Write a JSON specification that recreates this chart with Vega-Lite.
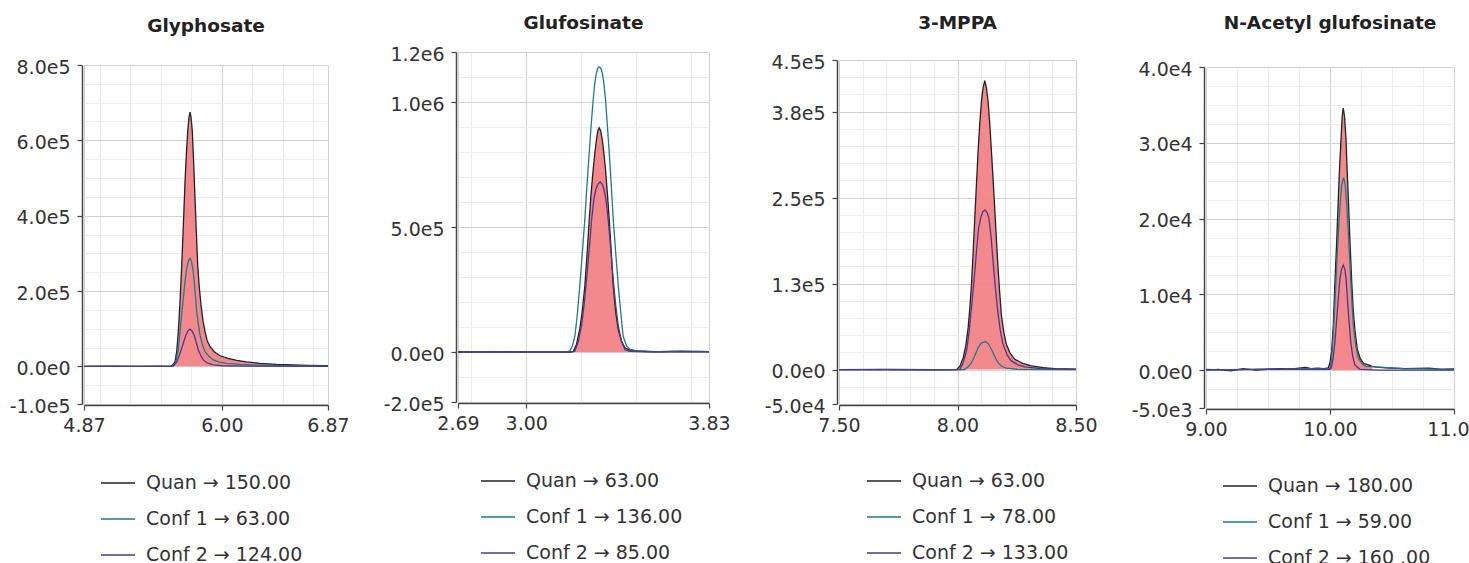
{
"$schema": "https://vega.github.io/schema/vega-lite/v6.json",
"padding": {"left": 9, "top": 12, "right": 0, "bottom": 0},
"background": "white",
"spacing": 33,
"config": {
  "view": {"stroke": null},
  "font": "DejaVu Sans",
  "axis": {"labelFont": "DejaVu Sans", "labelFontSize": 19, "labelColor": "#333", "domainColor": "#444", "domainWidth": 1.5, "tickColor": "#444", "tickSize": 5, "tickWidth": 1.2, "gridWidth": 1, "labelFlush": false, "labelOverlap": false, "title": null},
  "axisX": {"labelPadding": 6},
  "axisY": {"labelOffset": 2},
  "title": {"font": "DejaVu Sans", "fontSize": 18.5, "fontWeight": "bold", "color": "#222", "anchor": "middle"},
  "legend": {"labelFont": "DejaVu Sans", "labelFontSize": 19, "labelColor": "#333", "labelLimit": 400, "symbolType": "stroke", "symbolSize": 1156, "symbolStrokeWidth": 1.5, "labelOffset": 10, "rowPadding": 8, "title": null, "orient": "none", "direction": "vertical"}
},
"resolve": {"scale": {"x": "independent", "y": "independent", "color": "independent"}, "legend": {"color": "independent"}, "axis": {"x": "independent", "y": "independent"}},
"datasets": {
"gly": [
{"s":"Quan → 150.00","x":4.87,"v":0},{"s":"Quan → 150.00","x":5.1,"v":500},{"s":"Quan → 150.00","x":5.3,"v":-300},{"s":"Quan → 150.00","x":5.5,"v":200},{"s":"Quan → 150.00","x":5.58,"v":0},{"s":"Quan → 150.00","x":5.6,"v":5000},{"s":"Quan → 150.00","x":5.616,"v":12000},{"s":"Quan → 150.00","x":5.63,"v":40000},{"s":"Quan → 150.00","x":5.643,"v":92000},{"s":"Quan → 150.00","x":5.657,"v":170000},{"s":"Quan → 150.00","x":5.671,"v":269000},{"s":"Quan → 150.00","x":5.685,"v":380000},{"s":"Quan → 150.00","x":5.698,"v":490000},{"s":"Quan → 150.00","x":5.71,"v":570000},{"s":"Quan → 150.00","x":5.72,"v":623000},{"s":"Quan → 150.00","x":5.73,"v":660000},{"s":"Quan → 150.00","x":5.739,"v":675000},{"s":"Quan → 150.00","x":5.748,"v":660000},{"s":"Quan → 150.00","x":5.758,"v":623000},{"s":"Quan → 150.00","x":5.769,"v":540000},{"s":"Quan → 150.00","x":5.78,"v":446000},{"s":"Quan → 150.00","x":5.791,"v":355000},{"s":"Quan → 150.00","x":5.802,"v":269000},{"s":"Quan → 150.00","x":5.815,"v":210000},{"s":"Quan → 150.00","x":5.829,"v":163000},{"s":"Quan → 150.00","x":5.845,"v":122000},{"s":"Quan → 150.00","x":5.862,"v":92000},{"s":"Quan → 150.00","x":5.88,"v":68000},{"s":"Quan → 150.00","x":5.903,"v":52000},{"s":"Quan → 150.00","x":5.94,"v":38000},{"s":"Quan → 150.00","x":5.985,"v":28000},{"s":"Quan → 150.00","x":6.05,"v":21000},{"s":"Quan → 150.00","x":6.122,"v":16000},{"s":"Quan → 150.00","x":6.2,"v":12000},{"s":"Quan → 150.00","x":6.313,"v":8000},{"s":"Quan → 150.00","x":6.45,"v":5000},{"s":"Quan → 150.00","x":6.586,"v":3500},{"s":"Quan → 150.00","x":6.7,"v":2500},{"s":"Quan → 150.00","x":6.87,"v":2000},
{"s":"Conf 1 → 63.00","x":4.87,"v":0},{"s":"Conf 1 → 63.00","x":5.3,"v":-200},{"s":"Conf 1 → 63.00","x":5.59,"v":0},{"s":"Conf 1 → 63.00","x":5.62,"v":8000},{"s":"Conf 1 → 63.00","x":5.643,"v":45000},{"s":"Conf 1 → 63.00","x":5.657,"v":92000},{"s":"Conf 1 → 63.00","x":5.671,"v":140000},{"s":"Conf 1 → 63.00","x":5.684,"v":180000},{"s":"Conf 1 → 63.00","x":5.698,"v":225000},{"s":"Conf 1 → 63.00","x":5.712,"v":260000},{"s":"Conf 1 → 63.00","x":5.726,"v":280000},{"s":"Conf 1 → 63.00","x":5.739,"v":287000},{"s":"Conf 1 → 63.00","x":5.752,"v":278000},{"s":"Conf 1 → 63.00","x":5.766,"v":250000},{"s":"Conf 1 → 63.00","x":5.78,"v":200000},{"s":"Conf 1 → 63.00","x":5.794,"v":145000},{"s":"Conf 1 → 63.00","x":5.808,"v":110000},{"s":"Conf 1 → 63.00","x":5.821,"v":83000},{"s":"Conf 1 → 63.00","x":5.84,"v":58000},{"s":"Conf 1 → 63.00","x":5.862,"v":39000},{"s":"Conf 1 → 63.00","x":5.895,"v":26000},{"s":"Conf 1 → 63.00","x":5.93,"v":17000},{"s":"Conf 1 → 63.00","x":5.98,"v":11000},{"s":"Conf 1 → 63.00","x":6.04,"v":8000},{"s":"Conf 1 → 63.00","x":6.15,"v":5000},{"s":"Conf 1 → 63.00","x":6.31,"v":3000},{"s":"Conf 1 → 63.00","x":6.5,"v":1500},{"s":"Conf 1 → 63.00","x":6.87,"v":500},
{"s":"Conf 2 → 124.00","x":4.87,"v":0},{"s":"Conf 2 → 124.00","x":5.4,"v":-300},{"s":"Conf 2 → 124.00","x":5.6,"v":0},{"s":"Conf 2 → 124.00","x":5.63,"v":12000},{"s":"Conf 2 → 124.00","x":5.65,"v":28000},{"s":"Conf 2 → 124.00","x":5.671,"v":48000},{"s":"Conf 2 → 124.00","x":5.69,"v":68000},{"s":"Conf 2 → 124.00","x":5.706,"v":83000},{"s":"Conf 2 → 124.00","x":5.722,"v":94000},{"s":"Conf 2 → 124.00","x":5.739,"v":99000},{"s":"Conf 2 → 124.00","x":5.756,"v":94000},{"s":"Conf 2 → 124.00","x":5.772,"v":83000},{"s":"Conf 2 → 124.00","x":5.79,"v":64000},{"s":"Conf 2 → 124.00","x":5.807,"v":43000},{"s":"Conf 2 → 124.00","x":5.828,"v":28000},{"s":"Conf 2 → 124.00","x":5.848,"v":17000},{"s":"Conf 2 → 124.00","x":5.88,"v":9000},{"s":"Conf 2 → 124.00","x":5.93,"v":4000},{"s":"Conf 2 → 124.00","x":6.0,"v":1500},{"s":"Conf 2 → 124.00","x":6.2,"v":500},{"s":"Conf 2 → 124.00","x":6.87,"v":0}
],
"glu": [
{"s":"Quan → 63.00","x":2.69,"v":0},{"s":"Quan → 63.00","x":2.9,"v":1000},{"s":"Quan → 63.00","x":3.1,"v":0},{"s":"Quan → 63.00","x":3.2,"v":0},{"s":"Quan → 63.00","x":3.213,"v":2000},{"s":"Quan → 63.00","x":3.228,"v":30000},{"s":"Quan → 63.00","x":3.243,"v":90000},{"s":"Quan → 63.00","x":3.255,"v":170000},{"s":"Quan → 63.00","x":3.266,"v":264000},{"s":"Quan → 63.00","x":3.276,"v":390000},{"s":"Quan → 63.00","x":3.286,"v":530000},{"s":"Quan → 63.00","x":3.295,"v":640000},{"s":"Quan → 63.00","x":3.304,"v":730000},{"s":"Quan → 63.00","x":3.312,"v":800000},{"s":"Quan → 63.00","x":3.319,"v":850000},{"s":"Quan → 63.00","x":3.325,"v":885000},{"s":"Quan → 63.00","x":3.331,"v":897000},{"s":"Quan → 63.00","x":3.338,"v":885000},{"s":"Quan → 63.00","x":3.345,"v":850000},{"s":"Quan → 63.00","x":3.352,"v":800000},{"s":"Quan → 63.00","x":3.36,"v":730000},{"s":"Quan → 63.00","x":3.368,"v":640000},{"s":"Quan → 63.00","x":3.377,"v":530000},{"s":"Quan → 63.00","x":3.386,"v":400000},{"s":"Quan → 63.00","x":3.395,"v":264000},{"s":"Quan → 63.00","x":3.406,"v":160000},{"s":"Quan → 63.00","x":3.418,"v":90000},{"s":"Quan → 63.00","x":3.432,"v":45000},{"s":"Quan → 63.00","x":3.448,"v":17000},{"s":"Quan → 63.00","x":3.47,"v":8000},{"s":"Quan → 63.00","x":3.501,"v":4000},{"s":"Quan → 63.00","x":3.55,"v":2000},{"s":"Quan → 63.00","x":3.6,"v":1000},{"s":"Quan → 63.00","x":3.7,"v":3000},{"s":"Quan → 63.00","x":3.83,"v":1500},
{"s":"Conf 1 → 136.00","x":2.69,"v":0},{"s":"Conf 1 → 136.00","x":3.18,"v":0},{"s":"Conf 1 → 136.00","x":3.198,"v":5000},{"s":"Conf 1 → 136.00","x":3.21,"v":25000},{"s":"Conf 1 → 136.00","x":3.221,"v":64000},{"s":"Conf 1 → 136.00","x":3.232,"v":150000},{"s":"Conf 1 → 136.00","x":3.243,"v":264000},{"s":"Conf 1 → 136.00","x":3.255,"v":400000},{"s":"Conf 1 → 136.00","x":3.266,"v":530000},{"s":"Conf 1 → 136.00","x":3.276,"v":670000},{"s":"Conf 1 → 136.00","x":3.286,"v":797000},{"s":"Conf 1 → 136.00","x":3.295,"v":910000},{"s":"Conf 1 → 136.00","x":3.304,"v":1010000},{"s":"Conf 1 → 136.00","x":3.312,"v":1080000},{"s":"Conf 1 → 136.00","x":3.319,"v":1117000},{"s":"Conf 1 → 136.00","x":3.325,"v":1136000},{"s":"Conf 1 → 136.00","x":3.331,"v":1141000},{"s":"Conf 1 → 136.00","x":3.338,"v":1136000},{"s":"Conf 1 → 136.00","x":3.345,"v":1117000},{"s":"Conf 1 → 136.00","x":3.352,"v":1080000},{"s":"Conf 1 → 136.00","x":3.36,"v":1010000},{"s":"Conf 1 → 136.00","x":3.368,"v":910000},{"s":"Conf 1 → 136.00","x":3.377,"v":797000},{"s":"Conf 1 → 136.00","x":3.386,"v":670000},{"s":"Conf 1 → 136.00","x":3.395,"v":530000},{"s":"Conf 1 → 136.00","x":3.406,"v":400000},{"s":"Conf 1 → 136.00","x":3.418,"v":264000},{"s":"Conf 1 → 136.00","x":3.43,"v":150000},{"s":"Conf 1 → 136.00","x":3.44,"v":64000},{"s":"Conf 1 → 136.00","x":3.455,"v":25000},{"s":"Conf 1 → 136.00","x":3.471,"v":10000},{"s":"Conf 1 → 136.00","x":3.5,"v":4000},{"s":"Conf 1 → 136.00","x":3.6,"v":1500},{"s":"Conf 1 → 136.00","x":3.7,"v":2500},{"s":"Conf 1 → 136.00","x":3.83,"v":1500},
{"s":"Conf 2 → 85.00","x":2.69,"v":0},{"s":"Conf 2 → 85.00","x":3.2,"v":0},{"s":"Conf 2 → 85.00","x":3.22,"v":2000},{"s":"Conf 2 → 85.00","x":3.236,"v":40000},{"s":"Conf 2 → 85.00","x":3.251,"v":104000},{"s":"Conf 2 → 85.00","x":3.263,"v":190000},{"s":"Conf 2 → 85.00","x":3.274,"v":290000},{"s":"Conf 2 → 85.00","x":3.286,"v":410000},{"s":"Conf 2 → 85.00","x":3.297,"v":530000},{"s":"Conf 2 → 85.00","x":3.307,"v":610000},{"s":"Conf 2 → 85.00","x":3.316,"v":650000},{"s":"Conf 2 → 85.00","x":3.326,"v":672000},{"s":"Conf 2 → 85.00","x":3.336,"v":680000},{"s":"Conf 2 → 85.00","x":3.345,"v":672000},{"s":"Conf 2 → 85.00","x":3.353,"v":650000},{"s":"Conf 2 → 85.00","x":3.362,"v":610000},{"s":"Conf 2 → 85.00","x":3.372,"v":530000},{"s":"Conf 2 → 85.00","x":3.384,"v":410000},{"s":"Conf 2 → 85.00","x":3.395,"v":290000},{"s":"Conf 2 → 85.00","x":3.406,"v":190000},{"s":"Conf 2 → 85.00","x":3.418,"v":104000},{"s":"Conf 2 → 85.00","x":3.432,"v":45000},{"s":"Conf 2 → 85.00","x":3.448,"v":10000},{"s":"Conf 2 → 85.00","x":3.47,"v":3000},{"s":"Conf 2 → 85.00","x":3.55,"v":1000},{"s":"Conf 2 → 85.00","x":3.83,"v":500}
],
"mppa": [
{"s":"Quan → 63.00","x":7.5,"v":0},{"s":"Quan → 63.00","x":7.7,"v":300},{"s":"Quan → 63.00","x":7.9,"v":-200},{"s":"Quan → 63.00","x":7.996,"v":0},{"s":"Quan → 63.00","x":8.01,"v":5000},{"s":"Quan → 63.00","x":8.024,"v":17400},{"s":"Quan → 63.00","x":8.035,"v":35000},{"s":"Quan → 63.00","x":8.045,"v":61000},{"s":"Quan → 63.00","x":8.052,"v":90000},{"s":"Quan → 63.00","x":8.059,"v":124000},{"s":"Quan → 63.00","x":8.066,"v":170000},{"s":"Quan → 63.00","x":8.073,"v":221000},{"s":"Quan → 63.00","x":8.08,"v":270000},{"s":"Quan → 63.00","x":8.087,"v":318000},{"s":"Quan → 63.00","x":8.094,"v":358000},{"s":"Quan → 63.00","x":8.101,"v":390000},{"s":"Quan → 63.00","x":8.108,"v":410000},{"s":"Quan → 63.00","x":8.115,"v":420000},{"s":"Quan → 63.00","x":8.122,"v":410000},{"s":"Quan → 63.00","x":8.129,"v":390000},{"s":"Quan → 63.00","x":8.136,"v":358000},{"s":"Quan → 63.00","x":8.143,"v":318000},{"s":"Quan → 63.00","x":8.15,"v":278000},{"s":"Quan → 63.00","x":8.157,"v":235000},{"s":"Quan → 63.00","x":8.164,"v":190000},{"s":"Quan → 63.00","x":8.171,"v":148000},{"s":"Quan → 63.00","x":8.178,"v":112000},{"s":"Quan → 63.00","x":8.185,"v":80000},{"s":"Quan → 63.00","x":8.195,"v":55000},{"s":"Quan → 63.00","x":8.206,"v":37000},{"s":"Quan → 63.00","x":8.222,"v":24000},{"s":"Quan → 63.00","x":8.242,"v":15000},{"s":"Quan → 63.00","x":8.275,"v":9000},{"s":"Quan → 63.00","x":8.312,"v":5400},{"s":"Quan → 63.00","x":8.36,"v":3000},{"s":"Quan → 63.00","x":8.41,"v":1500},{"s":"Quan → 63.00","x":8.5,"v":500},
{"s":"Conf 1 → 78.00","x":7.5,"v":0},{"s":"Conf 1 → 78.00","x":8.03,"v":0},{"s":"Conf 1 → 78.00","x":8.045,"v":4000},{"s":"Conf 1 → 78.00","x":8.059,"v":10000},{"s":"Conf 1 → 78.00","x":8.073,"v":20000},{"s":"Conf 1 → 78.00","x":8.087,"v":32000},{"s":"Conf 1 → 78.00","x":8.1,"v":38500},{"s":"Conf 1 → 78.00","x":8.118,"v":41000},{"s":"Conf 1 → 78.00","x":8.13,"v":37500},{"s":"Conf 1 → 78.00","x":8.143,"v":29500},{"s":"Conf 1 → 78.00","x":8.157,"v":19000},{"s":"Conf 1 → 78.00","x":8.171,"v":10000},{"s":"Conf 1 → 78.00","x":8.188,"v":4500},{"s":"Conf 1 → 78.00","x":8.206,"v":2000},{"s":"Conf 1 → 78.00","x":8.25,"v":500},{"s":"Conf 1 → 78.00","x":8.5,"v":0},
{"s":"Conf 2 → 133.00","x":7.5,"v":0},{"s":"Conf 2 → 133.00","x":7.8,"v":-300},{"s":"Conf 2 → 133.00","x":8.01,"v":0},{"s":"Conf 2 → 133.00","x":8.024,"v":10000},{"s":"Conf 2 → 133.00","x":8.038,"v":27000},{"s":"Conf 2 → 133.00","x":8.048,"v":52000},{"s":"Conf 2 → 133.00","x":8.059,"v":90000},{"s":"Conf 2 → 133.00","x":8.07,"v":130000},{"s":"Conf 2 → 133.00","x":8.08,"v":172000},{"s":"Conf 2 → 133.00","x":8.089,"v":205000},{"s":"Conf 2 → 133.00","x":8.098,"v":221000},{"s":"Conf 2 → 133.00","x":8.106,"v":229000},{"s":"Conf 2 → 133.00","x":8.115,"v":232000},{"s":"Conf 2 → 133.00","x":8.124,"v":229000},{"s":"Conf 2 → 133.00","x":8.132,"v":221000},{"s":"Conf 2 → 133.00","x":8.141,"v":195000},{"s":"Conf 2 → 133.00","x":8.15,"v":158000},{"s":"Conf 2 → 133.00","x":8.159,"v":122000},{"s":"Conf 2 → 133.00","x":8.168,"v":90000},{"s":"Conf 2 → 133.00","x":8.18,"v":58000},{"s":"Conf 2 → 133.00","x":8.192,"v":37000},{"s":"Conf 2 → 133.00","x":8.21,"v":21000},{"s":"Conf 2 → 133.00","x":8.227,"v":12600},{"s":"Conf 2 → 133.00","x":8.255,"v":7000},{"s":"Conf 2 → 133.00","x":8.284,"v":4000},{"s":"Conf 2 → 133.00","x":8.35,"v":1500},{"s":"Conf 2 → 133.00","x":8.5,"v":300}
],
"nag": [
{"s":"Quan → 180.00","x":9.0,"v":0},{"s":"Quan → 180.00","x":9.1,"v":100},{"s":"Quan → 180.00","x":9.2,"v":-100},{"s":"Quan → 180.00","x":9.3,"v":200},{"s":"Quan → 180.00","x":9.4,"v":0},{"s":"Quan → 180.00","x":9.5,"v":100},{"s":"Quan → 180.00","x":9.6,"v":200},{"s":"Quan → 180.00","x":9.7,"v":150},{"s":"Quan → 180.00","x":9.8,"v":350},{"s":"Quan → 180.00","x":9.85,"v":200},{"s":"Quan → 180.00","x":9.9,"v":250},{"s":"Quan → 180.00","x":9.95,"v":200},{"s":"Quan → 180.00","x":9.986,"v":300},{"s":"Quan → 180.00","x":10.0,"v":1000},{"s":"Quan → 180.00","x":10.013,"v":2460},{"s":"Quan → 180.00","x":10.027,"v":6000},{"s":"Quan → 180.00","x":10.04,"v":11700},{"s":"Quan → 180.00","x":10.054,"v":17000},{"s":"Quan → 180.00","x":10.067,"v":22600},{"s":"Quan → 180.00","x":10.078,"v":27000},{"s":"Quan → 180.00","x":10.089,"v":30500},{"s":"Quan → 180.00","x":10.098,"v":33500},{"s":"Quan → 180.00","x":10.107,"v":34570},{"s":"Quan → 180.00","x":10.117,"v":33500},{"s":"Quan → 180.00","x":10.129,"v":30500},{"s":"Quan → 180.00","x":10.138,"v":26500},{"s":"Quan → 180.00","x":10.148,"v":22600},{"s":"Quan → 180.00","x":10.161,"v":17000},{"s":"Quan → 180.00","x":10.175,"v":11700},{"s":"Quan → 180.00","x":10.188,"v":7800},{"s":"Quan → 180.00","x":10.202,"v":5100},{"s":"Quan → 180.00","x":10.22,"v":2800},{"s":"Quan → 180.00","x":10.242,"v":1600},{"s":"Quan → 180.00","x":10.27,"v":900},{"s":"Quan → 180.00","x":10.309,"v":700},{"s":"Quan → 180.00","x":10.34,"v":500},{"s":"Quan → 180.00","x":10.376,"v":400},{"s":"Quan → 180.00","x":10.45,"v":300},{"s":"Quan → 180.00","x":10.6,"v":200},{"s":"Quan → 180.00","x":10.8,"v":250},{"s":"Quan → 180.00","x":10.9,"v":100},{"s":"Quan → 180.00","x":11.0,"v":150},
{"s":"Conf 1 → 59.00","x":9.0,"v":0},{"s":"Conf 1 → 59.00","x":9.3,"v":100},{"s":"Conf 1 → 59.00","x":9.6,"v":100},{"s":"Conf 1 → 59.00","x":9.8,"v":200},{"s":"Conf 1 → 59.00","x":9.95,"v":150},{"s":"Conf 1 → 59.00","x":10.0,"v":200},{"s":"Conf 1 → 59.00","x":10.013,"v":1500},{"s":"Conf 1 → 59.00","x":10.027,"v":5100},{"s":"Conf 1 → 59.00","x":10.04,"v":9000},{"s":"Conf 1 → 59.00","x":10.054,"v":13900},{"s":"Conf 1 → 59.00","x":10.067,"v":18000},{"s":"Conf 1 → 59.00","x":10.081,"v":21800},{"s":"Conf 1 → 59.00","x":10.095,"v":24500},{"s":"Conf 1 → 59.00","x":10.11,"v":25400},{"s":"Conf 1 → 59.00","x":10.122,"v":24500},{"s":"Conf 1 → 59.00","x":10.135,"v":21800},{"s":"Conf 1 → 59.00","x":10.148,"v":18000},{"s":"Conf 1 → 59.00","x":10.161,"v":13900},{"s":"Conf 1 → 59.00","x":10.175,"v":9500},{"s":"Conf 1 → 59.00","x":10.188,"v":6000},{"s":"Conf 1 → 59.00","x":10.208,"v":3200},{"s":"Conf 1 → 59.00","x":10.228,"v":1600},{"s":"Conf 1 → 59.00","x":10.26,"v":800},{"s":"Conf 1 → 59.00","x":10.29,"v":500},{"s":"Conf 1 → 59.00","x":10.4,"v":400},{"s":"Conf 1 → 59.00","x":10.6,"v":200},{"s":"Conf 1 → 59.00","x":11.0,"v":100},
{"s":"Conf 2 → 160 .00","x":9.0,"v":100},{"s":"Conf 2 → 160 .00","x":9.2,"v":0},{"s":"Conf 2 → 160 .00","x":9.5,"v":150},{"s":"Conf 2 → 160 .00","x":9.8,"v":100},{"s":"Conf 2 → 160 .00","x":10.0,"v":100},{"s":"Conf 2 → 160 .00","x":10.01,"v":300},{"s":"Conf 2 → 160 .00","x":10.025,"v":1500},{"s":"Conf 2 → 160 .00","x":10.04,"v":3800},{"s":"Conf 2 → 160 .00","x":10.053,"v":6500},{"s":"Conf 2 → 160 .00","x":10.067,"v":9500},{"s":"Conf 2 → 160 .00","x":10.08,"v":12000},{"s":"Conf 2 → 160 .00","x":10.093,"v":13300},{"s":"Conf 2 → 160 .00","x":10.107,"v":13860},{"s":"Conf 2 → 160 .00","x":10.12,"v":13300},{"s":"Conf 2 → 160 .00","x":10.13,"v":12000},{"s":"Conf 2 → 160 .00","x":10.14,"v":9500},{"s":"Conf 2 → 160 .00","x":10.153,"v":6500},{"s":"Conf 2 → 160 .00","x":10.167,"v":3800},{"s":"Conf 2 → 160 .00","x":10.183,"v":1800},{"s":"Conf 2 → 160 .00","x":10.2,"v":700},{"s":"Conf 2 → 160 .00","x":10.24,"v":100},{"s":"Conf 2 → 160 .00","x":10.4,"v":0},{"s":"Conf 2 → 160 .00","x":11.0,"v":0}
]
},
"hconcat": [
{"spacing": 0, "vconcat": [
{"width": 1, "height": 4, "data": {"values": []}, "mark": "point"},
{
 "width": 244, "height": 339,
 "title": {"text": "Glyphosate", "offset": 23},
 "data": {"name": "gly"},
 "resolve": {"axis": {"x": "independent", "y": "independent"}},
 "layer": [
  {
   "transform": [{"filter": "datum.s === 'Quan → 150.00' && datum.x >= 5.58 && datum.x <= 6.6"}],
   "mark": {"type": "area", "color": "#f27f82", "opacity": 0.92},
   "encoding": {
    "x": {"field": "x", "type": "quantitative", "scale": {"domain": [4.87, 6.87], "nice": false, "zero": false}, "axis": {"orient": "top", "values": [5.0, 5.25, 5.5, 5.75, 6.25, 6.5, 6.75], "grid": true, "gridColor": "#ececec", "labels": false, "ticks": false, "domain": false}},
    "y": {"field": "v", "type": "quantitative", "scale": {"domain": [-100000, 800000], "nice": false, "zero": false}, "axis": {"orient": "right", "values": [-50000, 50000, 100000, 150000, 250000, 300000, 350000, 450000, 500000, 550000, 650000, 700000, 750000], "grid": true, "gridColor": "#ececec", "labels": false, "ticks": false, "domain": false}},
    "y2": {"datum": 0}
   }
  },
  {
   "mark": {"type": "line", "strokeWidth": 1.3},
   "encoding": {
    "x": {"field": "x", "type": "quantitative", "axis": {"orient": "bottom", "values": [4.87, 6.0, 6.87], "format": ".2f", "grid": true, "gridColor": "#d2d2d2", "offset": 1}},
    "y": {"field": "v", "type": "quantitative", "axis": {"orient": "left", "values": [-100000, 0, 200000, 400000, 600000, 800000], "labelExpr": "replace(replace(format(datum.value, '.1e'), '+', ''), '−', '-')", "grid": true, "gridColor": "#d2d2d2", "offset": 2, "labelPadding": 7}},
    "color": {"field": "s", "type": "nominal", "scale": {"domain": ["Quan → 150.00", "Conf 1 → 63.00", "Conf 2 → 124.00"], "range": ["#222222", "#1d7a8a", "#4b3a8a"]}, "legend": {"legendX": 16, "legendY": 453}}
   }
  }
 ]
}
]},
{"spacing": 0, "vconcat": [
{"width": 1, "height": 1, "data": {"values": []}, "mark": "point"},
{
 "width": 251, "height": 350,
 "title": {"text": "Glufosinate", "offset": 13},
 "data": {"name": "glu"},
 "resolve": {"axis": {"x": "independent", "y": "independent"}},
 "layer": [
  {
   "transform": [{"filter": "datum.s === 'Quan → 63.00' && datum.x >= 3.2 && datum.x <= 3.5"}],
   "mark": {"type": "area", "color": "#f27f82", "opacity": 0.92},
   "encoding": {
    "x": {"field": "x", "type": "quantitative", "scale": {"domain": [2.69, 3.83], "nice": false, "zero": false}, "axis": {"orient": "top", "values": [2.75, 3.25, 3.5, 3.75], "grid": true, "gridColor": "#ececec", "labels": false, "ticks": false, "domain": false}},
    "y": {"field": "v", "type": "quantitative", "scale": {"domain": [-200000, 1200000], "nice": false, "zero": false}, "axis": {"orient": "right", "values": [-100000, 100000, 200000, 300000, 400000, 600000, 700000, 800000, 900000, 1100000], "grid": true, "gridColor": "#ececec", "labels": false, "ticks": false, "domain": false}},
    "y2": {"datum": 0}
   }
  },
  {
   "mark": {"type": "line", "strokeWidth": 1.3},
   "encoding": {
    "x": {"field": "x", "type": "quantitative", "axis": {"orient": "bottom", "values": [2.69, 3.0, 3.83], "format": ".2f", "grid": true, "gridColor": "#d2d2d2", "offset": 1}},
    "y": {"field": "v", "type": "quantitative", "axis": {"orient": "left", "values": [-200000, 0, 500000, 1000000, 1200000], "labelExpr": "replace(replace(format(datum.value, '.1e'), '+', ''), '−', '-')", "grid": true, "gridColor": "#d2d2d2", "offset": 2, "labelPadding": 7}},
    "color": {"field": "s", "type": "nominal", "scale": {"domain": ["Quan → 63.00", "Conf 1 → 136.00", "Conf 2 → 85.00"], "range": ["#222222", "#1d7a8a", "#4b3a8a"]}, "legend": {"legendX": 22, "legendY": 451}}
   }
  }
 ]
}
]},
{"spacing": 0, "vconcat": [
{"width": 1, "height": 1, "data": {"values": []}, "mark": "point"},
{
 "width": 237, "height": 344,
 "title": {"text": "3-MPPA", "offset": 21},
 "data": {"name": "mppa"},
 "resolve": {"axis": {"x": "independent", "y": "independent"}},
 "layer": [
  {
   "transform": [{"filter": "datum.s === 'Quan → 63.00' && datum.x >= 7.996 && datum.x <= 8.45"}],
   "mark": {"type": "area", "color": "#f27f82", "opacity": 0.92},
   "encoding": {
    "x": {"field": "x", "type": "quantitative", "scale": {"domain": [7.5, 8.5], "nice": false, "zero": false}, "axis": {"orient": "top", "values": [7.6, 7.7, 7.8, 7.9, 8.1, 8.2, 8.3, 8.4], "grid": true, "gridColor": "#ececec", "labels": false, "ticks": false, "domain": false}},
    "y": {"field": "v", "type": "quantitative", "scale": {"domain": [-50000, 450000], "nice": false, "zero": false}, "axis": {"orient": "right", "values": [-25000, 25000, 50000, 75000, 100000, 150000, 175000, 200000, 225000, 275000, 300000, 325000, 350000, 400000, 425000], "grid": true, "gridColor": "#ececec", "labels": false, "ticks": false, "domain": false}},
    "y2": {"datum": 0}
   }
  },
  {
   "mark": {"type": "line", "strokeWidth": 1.3},
   "encoding": {
    "x": {"field": "x", "type": "quantitative", "axis": {"orient": "bottom", "values": [7.5, 8.0, 8.5], "format": ".2f", "grid": true, "gridColor": "#d2d2d2", "offset": 1}},
    "y": {"field": "v", "type": "quantitative", "axis": {"orient": "left", "values": [-50000, 0, 125000, 250000, 375000, 450000], "labelExpr": "replace(replace(format(datum.value, '.1e'), '+', ''), '−', '-')", "grid": true, "gridColor": "#d2d2d2", "offset": 2, "labelPadding": 7}},
    "color": {"field": "s", "type": "nominal", "scale": {"domain": ["Quan → 63.00", "Conf 1 → 78.00", "Conf 2 → 133.00"], "range": ["#222222", "#1d7a8a", "#4b3a8a"]}, "legend": {"legendX": 27, "legendY": 451}}
   }
  }
 ]
}
]},
{"spacing": 0, "vconcat": [
{"width": 1, "height": 1, "data": {"values": []}, "mark": "point"},
{
 "width": 248, "height": 341,
 "title": {"text": "N-Acetyl glufosinate", "offset": 28},
 "data": {"name": "nag"},
 "resolve": {"axis": {"x": "independent", "y": "independent"}},
 "layer": [
  {
   "transform": [{"filter": "datum.s === 'Quan → 180.00' && datum.x >= 9.986 && datum.x <= 10.35"}],
   "mark": {"type": "area", "color": "#f27f82", "opacity": 0.92},
   "encoding": {
    "x": {"field": "x", "type": "quantitative", "scale": {"domain": [9.0, 11.0], "nice": false, "zero": false}, "axis": {"orient": "top", "values": [9.25, 9.5, 9.75, 10.25, 10.5, 10.75], "grid": true, "gridColor": "#ececec", "labels": false, "ticks": false, "domain": false}},
    "y": {"field": "v", "type": "quantitative", "scale": {"domain": [-5000, 40000], "nice": false, "zero": false}, "axis": {"orient": "right", "values": [-2500, 2500, 5000, 7500, 12500, 15000, 17500, 22500, 25000, 27500, 32500, 35000, 37500], "grid": true, "gridColor": "#ececec", "labels": false, "ticks": false, "domain": false}},
    "y2": {"datum": 0}
   }
  },
  {
   "mark": {"type": "line", "strokeWidth": 1.3},
   "encoding": {
    "x": {"field": "x", "type": "quantitative", "axis": {"orient": "bottom", "values": [9.0, 10.0, 11.0], "format": ".2f", "grid": true, "gridColor": "#d2d2d2", "offset": 1}},
    "y": {"field": "v", "type": "quantitative", "axis": {"orient": "left", "values": [-5000, 0, 10000, 20000, 30000, 40000], "labelExpr": "replace(replace(format(datum.value, '.1e'), '+', ''), '−', '-')", "grid": true, "gridColor": "#d2d2d2", "offset": 2, "labelPadding": 7}},
    "color": {"field": "s", "type": "nominal", "scale": {"domain": ["Quan → 180.00", "Conf 1 → 59.00", "Conf 2 → 160 .00"], "range": ["#222222", "#1d7a8a", "#4b3a8a"]}, "legend": {"legendX": 16, "legendY": 456}}
   }
  }
 ]
}
]}
]
}
